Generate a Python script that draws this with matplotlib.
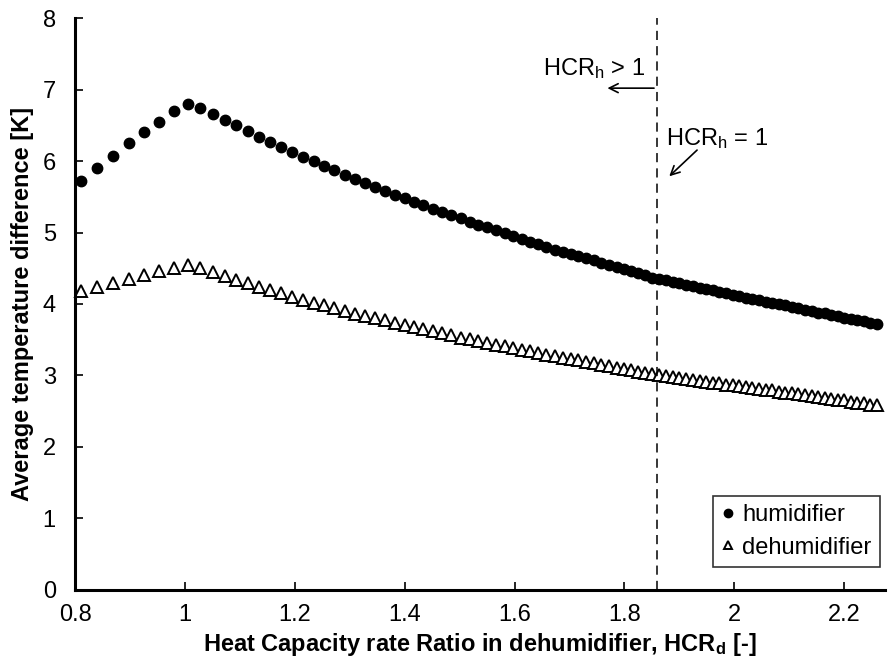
import matplotlib.pyplot as plt

plt.rcParams.update({'font.family': ['Liberation Sans', 'DejaVu Sans'],
                     'mathtext.default': 'regular'})

# heat capacity rate ratio in the dehumidifier
hcr_d = [0.810, 0.840, 0.869, 0.898, 0.926, 0.953, 0.979, 1.005,
         1.028, 1.050, 1.072, 1.093, 1.114, 1.135, 1.155, 1.175, 1.195, 1.215,
         1.234, 1.253, 1.272, 1.291, 1.310, 1.328, 1.346, 1.364, 1.382, 1.400,
         1.417, 1.434, 1.451, 1.468, 1.485, 1.502, 1.518, 1.534, 1.550, 1.566,
         1.582, 1.598, 1.613, 1.628, 1.643, 1.658, 1.673, 1.688, 1.702, 1.716,
         1.730, 1.744, 1.758, 1.772, 1.786, 1.799, 1.812, 1.825, 1.838, 1.851,
         1.863, 1.876, 1.888, 1.900, 1.912, 1.925, 1.937, 1.949, 1.961, 1.973,
         1.985, 1.997, 2.009, 2.021, 2.033, 2.045, 2.057, 2.069, 2.081, 2.093,
         2.105, 2.117, 2.129, 2.141, 2.153, 2.165, 2.177, 2.189, 2.200, 2.212,
         2.224, 2.236, 2.248, 2.260]

# average temperature difference [K]
dt_humid = [5.72, 5.90, 6.07, 6.25, 6.41, 6.55, 6.70, 6.80,
            6.74, 6.66, 6.58, 6.50, 6.42, 6.34, 6.27, 6.20, 6.13, 6.06,
            6.00, 5.93, 5.87, 5.81, 5.75, 5.69, 5.63, 5.58, 5.53, 5.48,
            5.43, 5.38, 5.33, 5.29, 5.24, 5.20, 5.15, 5.11, 5.07, 5.03,
            4.99, 4.95, 4.91, 4.87, 4.84, 4.80, 4.76, 4.73, 4.70, 4.67,
            4.64, 4.61, 4.58, 4.55, 4.52, 4.49, 4.46, 4.43, 4.40, 4.37,
            4.35, 4.33, 4.31, 4.29, 4.27, 4.25, 4.23, 4.21, 4.19, 4.17,
            4.15, 4.13, 4.11, 4.09, 4.07, 4.05, 4.03, 4.01, 4.00, 3.98,
            3.96, 3.94, 3.92, 3.90, 3.88, 3.87, 3.85, 3.83, 3.81, 3.79,
            3.78, 3.76, 3.74, 3.72]

dt_dehumid = [4.18, 4.24, 4.30, 4.35, 4.41, 4.46, 4.51, 4.55,
              4.50, 4.45, 4.39, 4.34, 4.29, 4.24, 4.19, 4.15, 4.10, 4.06,
              4.02, 3.98, 3.94, 3.90, 3.86, 3.83, 3.80, 3.77, 3.74, 3.71,
              3.68, 3.65, 3.62, 3.59, 3.56, 3.53, 3.51, 3.48, 3.46, 3.43,
              3.41, 3.38, 3.36, 3.34, 3.31, 3.29, 3.27, 3.25, 3.23, 3.21,
              3.19, 3.17, 3.15, 3.13, 3.11, 3.09, 3.07, 3.05, 3.04, 3.02,
              3.00, 2.99, 2.98, 2.96, 2.95, 2.94, 2.92, 2.91, 2.90, 2.89,
              2.87, 2.86, 2.85, 2.84, 2.82, 2.81, 2.80, 2.79, 2.77, 2.76,
              2.75, 2.74, 2.72, 2.71, 2.70, 2.69, 2.67, 2.66, 2.65, 2.63,
              2.62, 2.61, 2.59, 2.58]

hcr_h_one = 1.859  # HCR_h = 1 boundary

x_ticks = [0.8, 1.0, 1.2, 1.4, 1.6, 1.8, 2.0, 2.2]
x_tick_labels = ['0.8', '1', '1.2', '1.4', '1.6', '1.8', '2', '2.2']


def main():
    fig = plt.figure(figsize=(8.96, 6.71), dpi=100)
    ax = fig.add_axes([0.084, 0.121, 0.904, 0.852])

    ax.plot(hcr_d, dt_humid, 'o', color='black', markersize=7.5, label='humidifier', clip_on=False)
    ax.plot(hcr_d, dt_dehumid, '^', markerfacecolor='white', markeredgecolor='black',
            markeredgewidth=1.4, markersize=8.5, label='dehumidifier', clip_on=False)

    ax.axvline(hcr_h_one, color='black', linestyle=(0, (6, 4)), linewidth=1.1)

    # annotations around the HCR_h = 1 boundary
    ax.text(1.652, 7.30, 'HCR$_h$ > 1', fontsize=17, va='center', ha='left')
    ax.annotate('', xy=(1.764, 7.02), xytext=(hcr_h_one, 7.02),
                arrowprops=dict(arrowstyle='->', color='black', lw=1.2, mutation_scale=16))
    ax.text(1.875, 6.32, 'HCR$_h$ = 1', fontsize=17, va='center', ha='left')
    ax.annotate('', xy=(1.878, 5.76), xytext=(1.936, 6.18),
                arrowprops=dict(arrowstyle='->', color='black', lw=1.2, mutation_scale=16))

    ax.set_xlim(0.8, 2.275)
    ax.set_ylim(0, 8)
    ax.set_xticks(x_ticks)
    ax.set_xticklabels(x_tick_labels)
    ax.set_yticks(range(0, 9))

    for side in ('top', 'right'):
        ax.spines[side].set_visible(False)
    for side in ('left', 'bottom'):
        ax.spines[side].set_linewidth(2.2)
    ax.tick_params(direction='in', length=6, width=1.2, labelsize=17)
    ax.tick_params(axis='x', pad=10)
    ax.tick_params(axis='y', pad=14)

    ax.set_xlabel('Heat Capacity rate Ratio in dehumidifier, HCR$_d$ [-]',
                  fontsize=17, fontweight='bold', labelpad=4)
    ax.set_ylabel('Average temperature difference [K]', fontsize=17, fontweight='bold', labelpad=6)

    leg = ax.legend(loc='lower right', bbox_to_anchor=(0.993, 0.04), fontsize=17, frameon=True,
                    fancybox=False, edgecolor='black', handlelength=0.6, handletextpad=0.3,
                    borderpad=0.35, labelspacing=0.45, borderaxespad=0)
    leg.get_frame().set_linewidth(1.2)
    leg.legend_handles[0].set_markersize(6)
    leg.legend_handles[1].set_markersize(6)

    fig.savefig('out.png', dpi=100)


if __name__ == '__main__':
    main()
